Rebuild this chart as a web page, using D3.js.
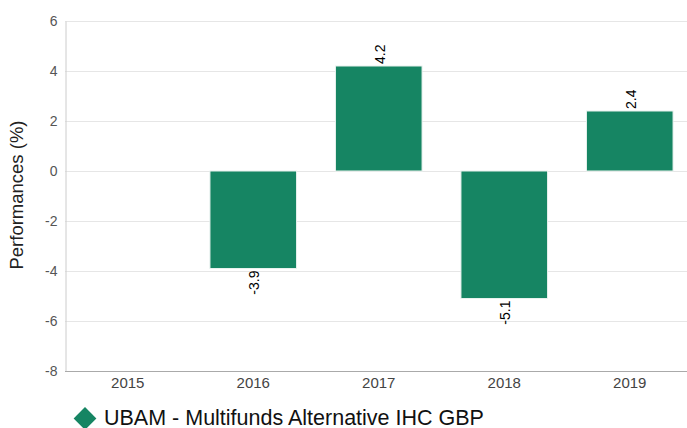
<!DOCTYPE html>
<html>
<head>
<meta charset="utf-8">
<script src="https://cdn.jsdelivr.net/npm/d3@7"></script>
<style>
  body { margin: 0; background: #fff; }
  svg { font-family: "Liberation Sans", Arial, sans-serif; }
</style>
</head>
<body>
<svg width="687" height="428"></svg>
<script>
// Data
const years = ['2015', '2016', '2017', '2018', '2019'];
const perf = [null, -3.9, 4.2, -5.1, 2.4];
const yTicks = [-8, -6, -4, -2, 0, 2, 4, 6];
const seriesName = 'UBAM - Multifunds Alternative IHC GBP';

const svg = d3.select('svg');
const plotLeft = 65, plotRight = 692.5, plotTop = 21, plotBottom = 371;

const x = d3.scaleBand().domain(years).range([plotLeft, plotRight]).paddingInner(0.31).paddingOuter(0.155);
const y = d3.scaleLinear().domain([-8, 6]).range([plotBottom, plotTop]);

// Gridlines
svg.append('g')
  .selectAll('line')
  .data(yTicks)
  .join('line')
  .attr('x1', plotLeft).attr('x2', 687)
  .attr('y1', d => y(d) + 0.5).attr('y2', d => y(d) + 0.5)
  .attr('stroke', '#e6e6e6');

// Y axis
const yAxis = svg.append('g')
  .attr('transform', `translate(${plotLeft + 0.5},0)`)
  .call(d3.axisLeft(y).tickValues(yTicks).tickSize(0).tickPadding(8).tickFormat(d => String(d)));
yAxis.select('.domain').attr('stroke', '#ccc');
yAxis.selectAll('text').attr('font-size', 14).attr('fill', '#555').attr('font-family', null);

// X axis
const xAxis = svg.append('g')
  .attr('transform', `translate(0,${plotBottom + 0.5})`)
  .call(d3.axisBottom(x).tickSize(0).tickPadding(6));
xAxis.select('.domain').attr('stroke', '#aaa').attr('d', `M${plotLeft},0H687`);
xAxis.selectAll('text').attr('font-size', 15).attr('fill', '#444').attr('font-family', null);

// Axis title
svg.append('text')
  .attr('transform', `translate(23,195) rotate(-90)`)
  .attr('text-anchor', 'middle')
  .attr('font-size', 18.5)
  .attr('fill', '#222')
  .text('Performances (%)');

// Bars
const data = years.map((d, i) => ({ year: d, value: perf[i] })).filter(d => d.value !== null);

svg.append('g')
  .selectAll('rect')
  .data(data)
  .join('rect')
  .attr('x', d => x(d.year))
  .attr('width', x.bandwidth())
  .attr('y', d => y(Math.max(0, d.value)))
  .attr('height', d => Math.abs(y(d.value) - y(0)))
  .attr('fill', '#168563')
  .attr('stroke', '#e8f2ee')
  .attr('stroke-width', 1);

// Value labels
svg.append('g')
  .selectAll('text')
  .data(data)
  .join('text')
  .attr('transform', d => `translate(${x(d.year) + x.bandwidth() / 2 + 1},${d.value >= 0 ? y(d.value) - 2 : y(d.value) + 2}) rotate(-90)`)
  .attr('text-anchor', d => d.value >= 0 ? 'start' : 'end')
  .attr('dy', '0.35em')
  .attr('font-size', 14)
  .attr('fill', '#000')
  .text(d => d.value.toFixed(1));

// Legend
const legend = svg.append('g').attr('transform', 'translate(85,418.5)');
legend.append('path')
  .attr('d', d3.symbol(d3.symbolDiamond2, 330)())
  .attr('fill', '#168563');
legend.append('text')
  .attr('x', 19)
  .attr('y', 6.5)
  .attr('font-size', 21.5)
  .attr('fill', '#111')
  .text(seriesName);
</script>
</body>
</html>
